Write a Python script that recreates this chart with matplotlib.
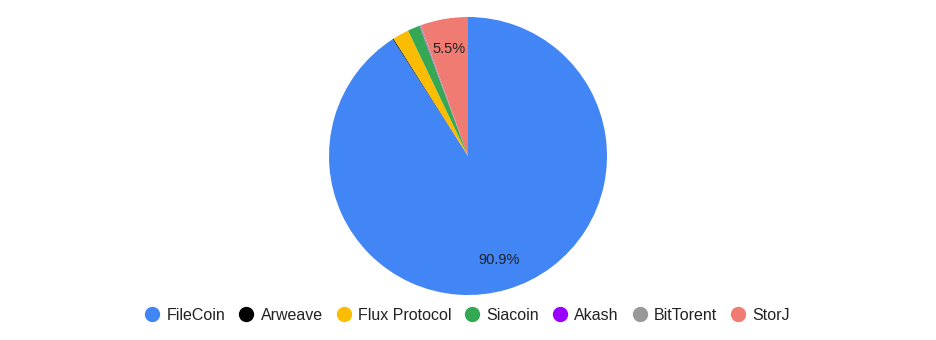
import matplotlib
matplotlib.use("Agg")
import matplotlib.pyplot as plt
from matplotlib.lines import Line2D

plt.rcParams['font.family'] = ['Liberation Sans', 'DejaVu Sans']

categories = ["FileCoin", "Arweave", "Flux Protocol", "Siacoin", "Akash", "BitTorent", "StorJ"]
values = [90.9, 0.1, 1.9, 1.4, 0.05, 0.15, 5.5]
colors = ["#4285f4", "#000000", "#fbbc04", "#34a853", "#9900ff", "#999999", "#f07b72"]
shown_labels = {"FileCoin": "90.9%", "StorJ": "5.5%"}

W, H = 936, 340
fig = plt.figure(figsize=(W / 100, H / 100), dpi=100)
cx, cy, r = 468, 156, 139
ax = fig.add_axes([(cx - r) / W, (H - cy - r) / H, 2 * r / W, 2 * r / H])

wedges, texts = ax.pie(values, colors=colors, startangle=90, counterclock=False,
                       labels=[shown_labels.get(c, "") for c in categories],
                       labeldistance=0.78,
                       wedgeprops=dict(linewidth=0),
                       textprops=dict(fontsize=10.5, color="#222222", ha="center", va="center"))
for t in texts:
    t.set_horizontalalignment("center")
ax.set_aspect("equal")
ax.set_xlim(-1, 1)
ax.set_ylim(-1, 1)
ax.axis("off")

handles = [Line2D([0], [0], marker="o", linestyle="", markersize=10,
                  markerfacecolor=c, markeredgecolor=c) for c in colors]
fig.legend(handles, categories, loc="center", bbox_to_anchor=(0.5, 1 - 315 / H),
           ncol=len(categories), frameon=False, fontsize=11.5, handlelength=0.8,
           handletextpad=0.5, columnspacing=0.9, labelcolor="#222222",
           borderpad=0, borderaxespad=0)

fig.savefig("out.png", dpi=100)
